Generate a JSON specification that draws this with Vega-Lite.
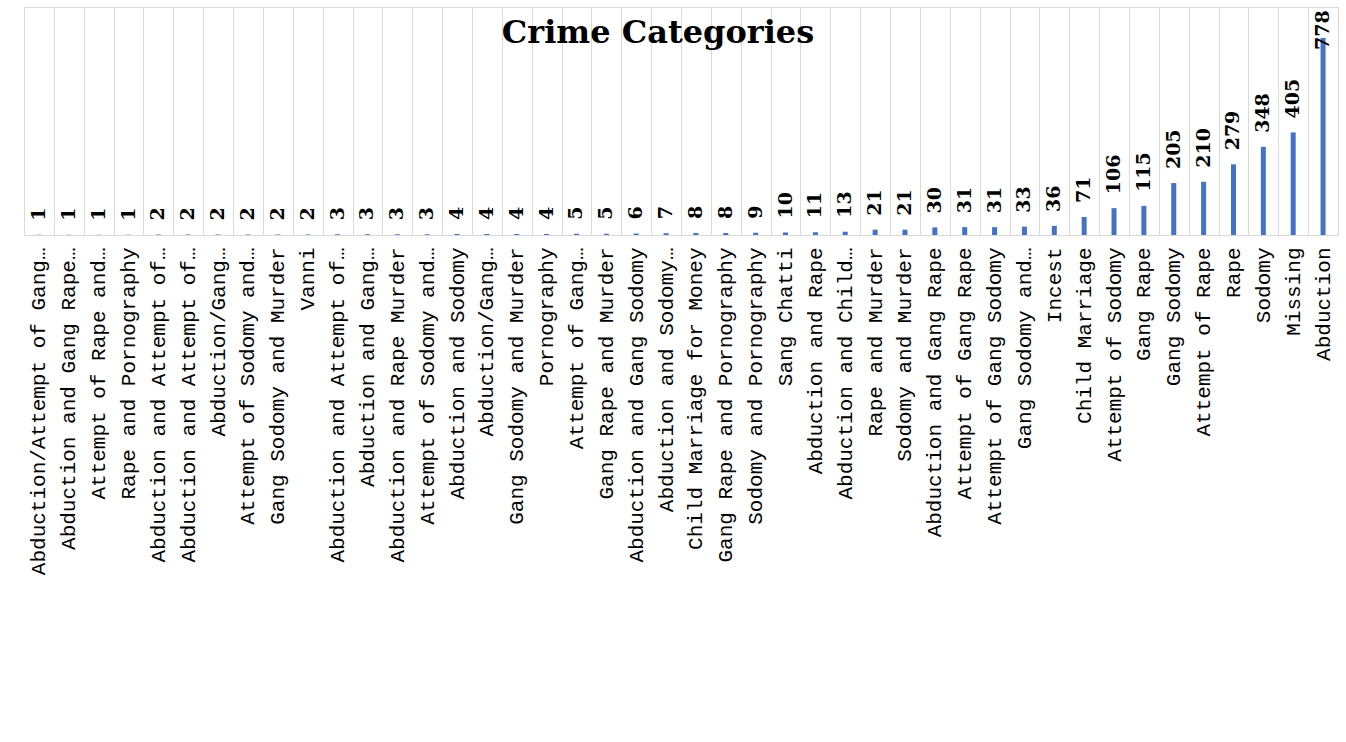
{
  "$schema": "https://vega.github.io/schema/vega-lite/v6.json",
  "width": 1314,
  "height": 228,
  "autosize": {"type": "none"},
  "padding": {"left": 24, "top": 7, "right": 8, "bottom": 507},
  "background": "white",
  "title": {"text": "Crime Categories", "font": "DejaVu Serif", "fontSize": 32, "fontWeight": "bold", "color": "#000000", "anchor": "middle", "baseline": "alphabetic", "offset": -68, "dx": -23},
  "data": {"values": [
    {"category": "Abduction/Attempt of Gang…", "cases": 1},
    {"category": "Abduction and Gang Rape…", "cases": 1},
    {"category": "Attempt of Rape and…", "cases": 1},
    {"category": "Rape and Pornography", "cases": 1},
    {"category": "Abduction and  Attempt of…", "cases": 2},
    {"category": "Abduction and Attempt of…", "cases": 2},
    {"category": "Abduction/Gang…", "cases": 2},
    {"category": "Attempt of Sodomy and…", "cases": 2},
    {"category": "Gang Sodomy and Murder", "cases": 2},
    {"category": "Vanni", "cases": 2},
    {"category": "Abduction and Attempt of…\u200b", "cases": 3},
    {"category": "Abduction and Gang…", "cases": 3},
    {"category": "Abduction and Rape Murder", "cases": 3},
    {"category": "Attempt of Sodomy and…\u200b", "cases": 3},
    {"category": "Abduction and Sodomy", "cases": 4},
    {"category": "Abduction/Gang…\u200b", "cases": 4},
    {"category": "Gang Sodomy and  Murder", "cases": 4},
    {"category": "Pornography", "cases": 4},
    {"category": "Attempt of Gang…", "cases": 5},
    {"category": "Gang Rape and Murder", "cases": 5},
    {"category": "Abduction and Gang Sodomy", "cases": 6},
    {"category": "Abduction and Sodomy…", "cases": 7},
    {"category": "Child Marriage for Money", "cases": 8},
    {"category": "Gang Rape and Pornography", "cases": 8},
    {"category": "Sodomy and Pornography", "cases": 9},
    {"category": "Sang Chatti", "cases": 10},
    {"category": "Abduction and Rape", "cases": 11},
    {"category": "Abduction and Child…", "cases": 13},
    {"category": "Rape and Murder", "cases": 21},
    {"category": "Sodomy and Murder", "cases": 21},
    {"category": "Abduction and Gang Rape", "cases": 30},
    {"category": "Attempt of Gang Rape", "cases": 31},
    {"category": "Attempt of Gang Sodomy", "cases": 31},
    {"category": "Gang Sodomy and…", "cases": 33},
    {"category": "Incest", "cases": 36},
    {"category": "Child Marriage", "cases": 71},
    {"category": "Attempt of Sodomy", "cases": 106},
    {"category": "Gang Rape", "cases": 115},
    {"category": "Gang Sodomy", "cases": 205},
    {"category": "Attempt of Rape", "cases": 210},
    {"category": "Rape", "cases": 279},
    {"category": "Sodomy", "cases": 348},
    {"category": "Missing", "cases": 405},
    {"category": "Abduction", "cases": 778}
  ]},
  "encoding": {
    "x": {
      "field": "category", "type": "nominal", "sort": null,
      "scale": {"paddingInner": 0, "paddingOuter": 0},
      "axis": {
        "title": null, "labelAngle": 270, "labelAlign": "right", "labelBaseline": "middle",
        "labelFont": "Liberation Mono", "labelFontSize": 21, "labelColor": "#000000",
        "labelPadding": 12, "labelLimit": 600, "labelOverlap": false,
        "ticks": false, "domain": true, "domainColor": "#d9d9d9",
        "grid": true, "gridColor": "#d9d9d9", "gridWidth": 1, "tickBand": "extent"
      }
    },
    "y": {"field": "cases", "type": "quantitative", "scale": {"domain": [0, 900]}, "axis": null}
  },
  "layer": [
    {"mark": {"type": "bar", "width": 5, "color": "#4472C4"}},
    {"mark": {"type": "text", "angle": 270, "align": "left", "baseline": "middle", "dx": {"expr": "datum.cases > 700 ? -12 : 14"}, "font": "DejaVu Serif", "fontSize": 19, "fontWeight": "bold", "color": "#000000"},
     "encoding": {"text": {"field": "cases", "type": "quantitative"}}}
  ],
  "config": {"view": {"stroke": "#d9d9d9"}}
}
